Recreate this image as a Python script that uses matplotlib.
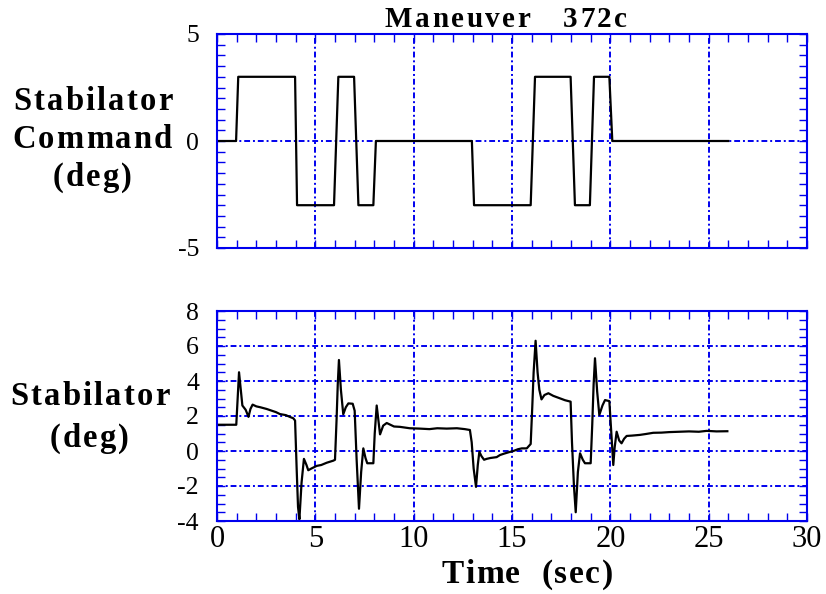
import matplotlib
matplotlib.use("Agg")
import matplotlib.pyplot as plt
from matplotlib.ticker import MultipleLocator
from matplotlib.font_manager import FontProperties, findfont
from matplotlib.ft2font import FT2Font

# Stabilator command (deg) vs time (sec)
cmd_t = [0, 0.97, 1.08, 3.97, 4.07, 5.95, 6.17, 6.97, 7.19, 7.95, 8.08, 12.96, 13.07,
         15.95, 16.17, 17.98, 18.2, 18.96, 19.17, 19.95, 20.1, 26.0]
cmd_v = [0, 0, 3, 3, -3, -3, 3, 3, -3, -3, 0, 0, -3, -3, 3, 3, -3, -3, 3, 3, 0, 0]

# Measured stabilator deflection (deg) vs time (sec)
stab_t = [0, 0.5, 0.98, 1.05, 1.12, 1.2, 1.29, 1.46, 1.6, 1.7, 1.81, 2.0, 2.2, 2.53, 2.8,
          3.0, 3.2, 3.5, 3.7, 3.88, 3.97, 4.05, 4.12, 4.19, 4.3, 4.42, 4.55, 4.64, 4.8,
          5.07, 5.3, 5.58, 5.92, 6.0, 6.08, 6.14, 6.2, 6.3, 6.42, 6.55, 6.68, 6.9, 7.0,
          7.1, 7.22, 7.33, 7.44, 7.55, 7.64, 7.95, 8.02, 8.12, 8.2, 8.29, 8.45, 8.63,
          9.0, 9.3, 9.8, 10.3, 10.8, 11.2, 11.68, 12.2, 12.6, 12.86, 12.95, 13.05, 13.17,
          13.26, 13.34, 13.45, 13.58, 13.71, 13.9, 14.22, 14.39, 14.6, 14.9, 15.07, 15.3,
          15.5, 15.75, 15.95, 16.03, 16.1, 16.2, 16.3, 16.39, 16.5, 16.65, 16.85, 17.1,
          17.44, 17.7, 17.98, 18.05, 18.15, 18.24, 18.35, 18.46, 18.6, 18.71, 19.0, 19.08,
          19.15, 19.22, 19.33, 19.44, 19.6, 19.73, 19.95, 20.05, 20.15, 20.22, 20.32, 20.45,
          20.57, 20.7, 20.83, 21.1, 21.5, 21.8, 22.18, 22.6, 23.0, 23.54, 24.0, 24.5, 24.9,
          25.4, 25.95]
stab_v = [1.5, 1.5, 1.5, 3.0, 4.5, 3.6, 2.6, 2.35, 1.95, 2.4, 2.65, 2.55, 2.5, 2.4, 2.3,
          2.22, 2.11, 2.05, 1.95, 1.87, 1.74, -1.0, -3.2, -3.9, -1.8, -0.45, -0.8, -1.1,
          -1.0, -0.85, -0.8, -0.67, -0.55, -0.5, 1.8, 3.8, 5.2, 3.5, 2.1, 2.5, 2.72, 2.7,
          2.3, -0.5, -3.3, -1.2, 0.15, -0.4, -0.7, -0.7, 1.0, 2.6, 1.8, 0.95, 1.45, 1.6,
          1.4, 1.38, 1.3, 1.28, 1.25, 1.3, 1.28, 1.3, 1.25, 1.2, 0.5, -1.0, -2.05, -0.8,
          -0.05, -0.3, -0.5, -0.45, -0.4, -0.35, -0.23, -0.15, -0.05, 0.0, 0.1, 0.15, 0.15,
          0.4, 2.5, 4.5, 6.3, 4.5, 3.5, 2.95, 3.2, 3.3, 3.15, 3.01, 2.9, 2.82, 0.5, -2.0,
          -3.5, -1.2, -0.13, -0.5, -0.7, -0.7, 1.5, 3.8, 5.3, 3.4, 2.06, 2.6, 2.91, 2.85,
          1.0, -0.8, 0.2, 1.1, 0.6, 0.44, 0.7, 0.86, 0.88, 0.92, 0.97, 1.04, 1.05, 1.08,
          1.1, 1.12, 1.1, 1.15, 1.12, 1.13]

W, H = 826, 594
blue = "#0000ee"
grid_style = (0, (3, 1.5, 1, 1.5))
serif = "Liberation Serif"
plt.rcParams["axes.unicode_minus"] = False

fig = plt.figure(figsize=(W / 100, H / 100), dpi=100)
ax1 = fig.add_axes([217 / W, 1 - 248 / H, 590 / W, 214 / H])
ax2 = fig.add_axes([217 / W, 1 - 521 / H, 590 / W, 210 / H])


def spaced_text(s, cx, base_y, size, track):
    # bold serif text with extra letter spacing, centred on cx (pixels)
    fp = FontProperties(family=serif, weight="bold", size=size)
    font = FT2Font(findfont(fp))
    font.set_size(size, 100)
    adv = [font.load_char(ord(c)).linearHoriAdvance / 65536 for c in s]
    total = sum(adv) + track * (len(s) - 1)
    x = cx - total / 2
    for c, a in zip(s, adv):
        if c != " ":
            fig.text(x / W, 1 - base_y / H, c, ha="left", va="baseline",
                     fontproperties=fp)
        x += a + track


def style_axis(ax, ylo, yhi, ymajor):
    ax.set_xlim(0, 30)
    ax.set_ylim(ylo, yhi)
    ax.xaxis.set_major_locator(MultipleLocator(5))
    ax.xaxis.set_minor_locator(MultipleLocator(1))
    ax.yaxis.set_major_locator(MultipleLocator(ymajor))
    ax.yaxis.set_minor_locator(MultipleLocator(0.5))
    ax.tick_params(which="both", direction="in", top=True, right=True,
                   length=6, width=1, color=blue)
    ax.tick_params(axis="y", labelsize=18.5, pad=13)
    ax.tick_params(axis="x", labelsize=22, pad=3)
    for s in ax.spines.values():
        s.set_color(blue)
        s.set_linewidth(1.5)
    ax.grid(True, which="major", color=blue, linestyle=grid_style, linewidth=1.4)
    for lab in ax.get_xticklabels() + ax.get_yticklabels():
        lab.set_family(serif)


ax1.plot(cmd_t, cmd_v, color="black", lw=1.6)
style_axis(ax1, -5, 5, 5)
ax1.tick_params(labelbottom=False)

ax2.plot(stab_t, stab_v, color="black", lw=1.6)
style_axis(ax2, -4, 8, 2)

# title, axis and panel labels
spaced_text("Maneuver   372c", 506, 27, 21, 2.6)
spaced_text("Time  (sec)", 527, 583, 24, 1.6)
spaced_text("Stabilator", 93, 110, 23.5, 2.2)
spaced_text("Command", 92, 148, 23.5, 2.2)
spaced_text("(deg)", 92, 186, 23.5, 2.2)
spaced_text("Stabilator", 90, 405, 23.5, 2.2)
spaced_text("(deg)", 89, 447, 23.5, 2.2)

fig.savefig("out.png", dpi=100)
